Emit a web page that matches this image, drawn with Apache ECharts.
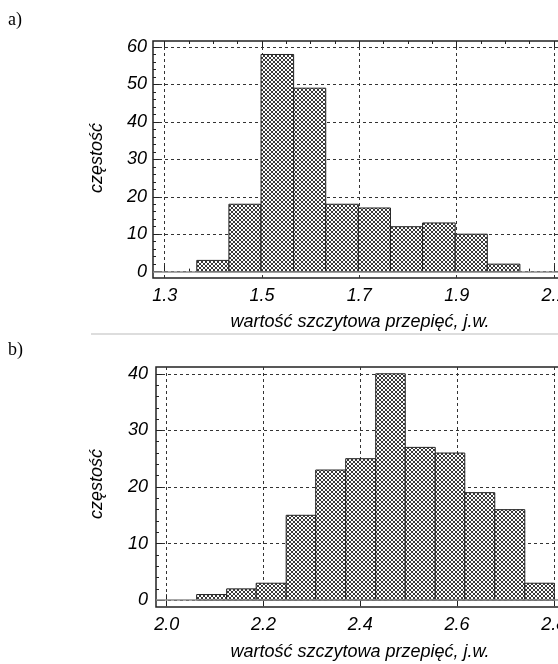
<!DOCTYPE html>
<html>
<head>
<meta charset="utf-8">
<script src="https://cdn.jsdelivr.net/npm/echarts@6/dist/echarts.min.js"></script>
<style>
html, body { margin: 0; padding: 0; background: #fff; overflow: hidden; }
/* the scanned figure is cut at the right edge, so the chart is wider than the window */
#chart { width: 620px; height: 664px; }
</style>
</head>
<body>
<div id="chart"></div>
<script>
// panel a) - bin edges and counts
const edgesA = [1.366, 1.432, 1.498, 1.565, 1.631, 1.698, 1.764, 1.830, 1.897, 1.963, 2.030];
const countsA = [3, 18, 58, 49, 18, 17, 12, 13, 10, 2];
const xMajorA = [1.3, 1.5, 1.7, 1.9, 2.1];
const xMinorA = [1.35, 1.4, 1.45, 1.55, 1.6, 1.65, 1.75, 1.8, 1.85, 1.95, 2.0, 2.05];
const yMajorA = [0, 10, 20, 30, 40, 50, 60];
const yMinorA = [2, 4, 6, 8, 12, 14, 16, 18, 22, 24, 26, 28, 32, 34, 36, 38, 42, 44, 46, 48, 52, 54, 56, 58];

// panel b)
const edgesB = [2.062, 2.124, 2.185, 2.247, 2.308, 2.370, 2.432, 2.493, 2.555, 2.616, 2.678, 2.740, 2.801];
const countsB = [1, 2, 3, 15, 23, 25, 40, 27, 26, 19, 16, 3];
const xMajorB = [2.0, 2.2, 2.4, 2.6, 2.8];
const yMajorB = [0, 10, 20, 30, 40];
const yMinorB = [2, 4, 6, 8, 12, 14, 16, 18, 22, 24, 26, 28, 32, 34, 36, 38];

const xTitle = 'wartość szczytowa przepięć, j.w.';
const yTitle = 'częstość';

// cross hatch fill
function hatch() {
  const c = document.createElement('canvas');
  c.width = 4; c.height = 4;
  const g = c.getContext('2d');
  g.fillStyle = '#fff';
  g.fillRect(0, 0, 4, 4);
  g.fillStyle = '#3a3a3a';
  [[0, 0], [1, 1], [2, 2], [3, 3], [3, 0], [2, 1], [1, 2], [0, 3]].forEach(p => g.fillRect(p[0], p[1], 1, 1));
  return { type: 'pattern', image: c, repeat: 'repeat' };
}
const hatchFill = hatch();

const labelFont = { fontFamily: 'Liberation Sans', fontStyle: 'italic', fontSize: 18, color: '#000' };
const dash = { show: true, lineStyle: { color: '#333', width: 1, type: [3, 3] } };
const tickColor = { color: '#222', width: 1 };

// one axis that only draws ticks (and optionally labels / grid lines)
function axis(grid, pos, min, max, ticks, len, labels, margin, split) {
  return {
    gridIndex: grid, type: 'value', position: pos, min: min, max: max,
    axisLine: { show: false },
    axisTick: { show: true, inside: true, length: len, customValues: ticks, lineStyle: tickColor },
    axisLabel: labels
      ? Object.assign({ show: true, customValues: ticks, margin: margin,
          formatter: v => (pos === 'left' ? String(v) : v.toFixed(1)) }, labelFont)
      : { show: false },
    splitLine: split ? dash : { show: false }
  };
}

function histSeries(idx, edges, counts) {
  return {
    type: 'custom', xAxisIndex: idx.x, yAxisIndex: idx.y, z: 2,
    data: edges.slice(0, -1).map((e, i) => [e, edges[i + 1], counts[i]]),
    encode: { x: [0, 1], y: 2 },
    renderItem: (params, api) => {
      const p0 = api.coord([api.value(0), api.value(2)]);
      const p1 = api.coord([api.value(1), 0]);
      return {
        type: 'rect',
        shape: { x: p0[0], y: p0[1], width: p1[0] - p0[0], height: p1[1] - p0[1] },
        style: { fill: hatchFill, stroke: '#222', lineWidth: 1 }
      };
    },
    markLine: {
      silent: true, symbol: 'none', label: { show: false }, z: 3,
      lineStyle: { color: '#8a8a8a', width: 1.5, type: 'solid' },
      data: [{ yAxis: 0 }]
    }
  };
}

const xa = [1.276, 2.135], ya = [-1.7, 61.6];
const xb = [1.978, 2.8355], yb = [-1.2, 41.2];

const myChart = echarts.init(document.getElementById('chart'));
const option = {
  backgroundColor: '#fff',
  animation: false,
  grid: [
    { left: 153, top: 41, width: 418, height: 237, show: true, borderColor: '#222', borderWidth: 1.5 },
    { left: 156, top: 367, width: 415, height: 240, show: true, borderColor: '#222', borderWidth: 1.5 }
  ],
  xAxis: [
    axis(0, 'bottom', xa[0], xa[1], xMajorA, 6, true, 9, true),
    axis(0, 'bottom', xa[0], xa[1], xMinorA, 3),
    axis(0, 'top', xa[0], xa[1], xMajorA, 6),
    axis(0, 'top', xa[0], xa[1], xMinorA, 3),
    axis(1, 'bottom', xb[0], xb[1], xMajorB, 6, true, 9, true),
    axis(1, 'top', xb[0], xb[1], xMajorB, 6)
  ],
  yAxis: [
    axis(0, 'left', ya[0], ya[1], yMajorA, 6, true, 6, true),
    axis(0, 'left', ya[0], ya[1], yMinorA, 3),
    axis(1, 'left', yb[0], yb[1], yMajorB, 6, true, 8, true),
    axis(1, 'left', yb[0], yb[1], yMinorB, 3)
  ],
  series: [
    histSeries({ x: 0, y: 0 }, edgesA, countsA),
    histSeries({ x: 4, y: 2 }, edgesB, countsB)
  ],
  graphic: [
    { type: 'text', left: 8, top: 11, style: { text: 'a)', font: '18px "Liberation Serif"', fill: '#000' } },
    { type: 'text', left: 8, top: 341, style: { text: 'b)', font: '18px "Liberation Serif"', fill: '#000' } },
    { type: 'line', shape: { x1: 91, y1: 334, x2: 558, y2: 334 }, style: { stroke: '#bbb', lineWidth: 1 } },
    { type: 'text', x: 360, y: 322, style: { text: xTitle, font: 'italic 18px "Liberation Sans"', fill: '#000', textAlign: 'center', textVerticalAlign: 'middle' } },
    { type: 'text', x: 360, y: 652, style: { text: xTitle, font: 'italic 18px "Liberation Sans"', fill: '#000', textAlign: 'center', textVerticalAlign: 'middle' } },
    { type: 'text', x: 97, y: 158, rotation: Math.PI / 2, style: { text: yTitle, font: 'italic 18px "Liberation Sans"', fill: '#000', textAlign: 'center', textVerticalAlign: 'middle' } },
    { type: 'text', x: 97, y: 484, rotation: Math.PI / 2, style: { text: yTitle, font: 'italic 18px "Liberation Sans"', fill: '#000', textAlign: 'center', textVerticalAlign: 'middle' } }
  ]
};
myChart.setOption(option);
</script>
</body>
</html>
